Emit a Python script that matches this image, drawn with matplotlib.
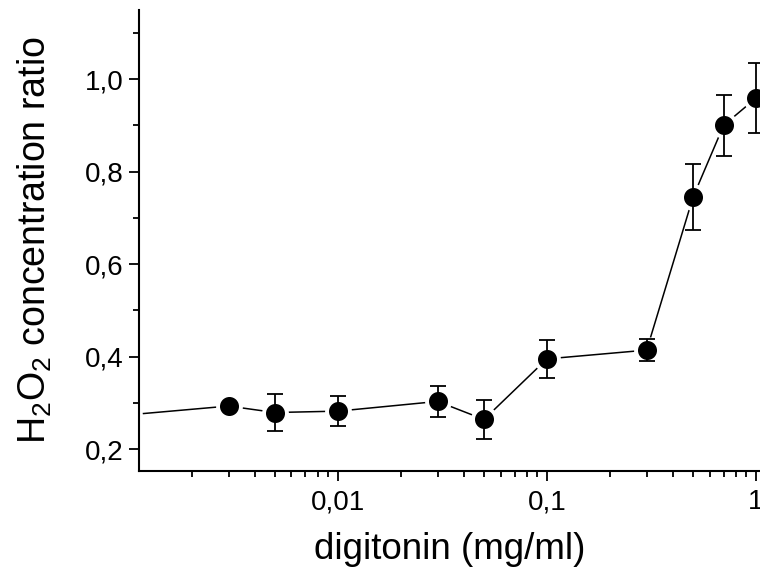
"""
Razão de concentração de H2O2 em função da digitonina (eixo x logarítmico).
"""

import matplotlib

matplotlib.use("Agg")
import matplotlib.pyplot as plt
from matplotlib.ticker import FixedLocator, FuncFormatter, LogLocator, MultipleLocator, NullFormatter

# Dados
digitonin = [0.001, 0.003, 0.005, 0.01, 0.03, 0.05, 0.1, 0.3, 0.5, 0.7, 1.0]
ratio = [0.274, 0.293, 0.279, 0.282, 0.303, 0.264, 0.395, 0.414, 0.745, 0.900, 0.959]
ratio_err = [0.0, 0.0, 0.041, 0.033, 0.033, 0.043, 0.041, 0.024, 0.071, 0.066, 0.076]
x_ticks = [0.01, 0.1, 1]
x_tick_labels = ["0,01", "0,1", "1"]

plt.rcParams["font.family"] = ["Liberation Sans", "DejaVu Sans"]
plt.rcParams["mathtext.fontset"] = "custom"
plt.rcParams["mathtext.rm"] = "Liberation Sans"
plt.rcParams["mathtext.it"] = "Liberation Sans"
plt.rcParams["mathtext.default"] = "regular"

fig = plt.figure(figsize=(7.6, 5.74), dpi=100)
ax = fig.add_axes([0.183, 0.179, 0.817, 0.804])

# Linha com falhas em volta dos marcadores (anel branco)
ax.plot(digitonin, ratio, color="black", lw=1.1, zorder=1)
ax.plot(
    digitonin, ratio, "o", color="black", markersize=16.5, markeredgecolor="white",
    markeredgewidth=2.8, zorder=2, linestyle="none",
)
ax.errorbar(
    digitonin, ratio, yerr=ratio_err, fmt="none", ecolor="black", elinewidth=1.3,
    capsize=6, capthick=1.3, zorder=3,
)

ax.set_xscale("log")
ax.set_xlim(0.00112, 1.045)
ax.set_ylim(0.152, 1.15)

ax.xaxis.set_major_locator(FixedLocator(x_ticks))
ax.xaxis.set_major_formatter(FuncFormatter(lambda v, p: x_tick_labels[x_ticks.index(v)] if v in x_ticks else ""))
ax.xaxis.set_minor_locator(LogLocator(base=10, subs=range(2, 10), numticks=20))
ax.xaxis.set_minor_formatter(NullFormatter())

ax.yaxis.set_major_locator(MultipleLocator(0.2))
ax.yaxis.set_minor_locator(MultipleLocator(0.1))
ax.yaxis.set_major_formatter(FuncFormatter(lambda v, p: f"{v:.1f}".replace(".", ",")))

for side in ["top", "right"]:
    ax.spines[side].set_visible(False)
for side in ["left", "bottom"]:
    ax.spines[side].set_linewidth(1.5)

ax.tick_params(which="major", direction="out", length=7, width=1.3, labelsize=20, pad=4)
ax.tick_params(which="minor", direction="out", length=4, width=1.3)
ax.tick_params(axis="x", which="major", pad=6)

ax.set_xlabel("digitonin (mg/ml)", fontsize=26.5, labelpad=12)
ax.set_ylabel("H$_2$O$_2$ concentration ratio", fontsize=27, labelpad=22)

plt.savefig("out.png", dpi=100)
